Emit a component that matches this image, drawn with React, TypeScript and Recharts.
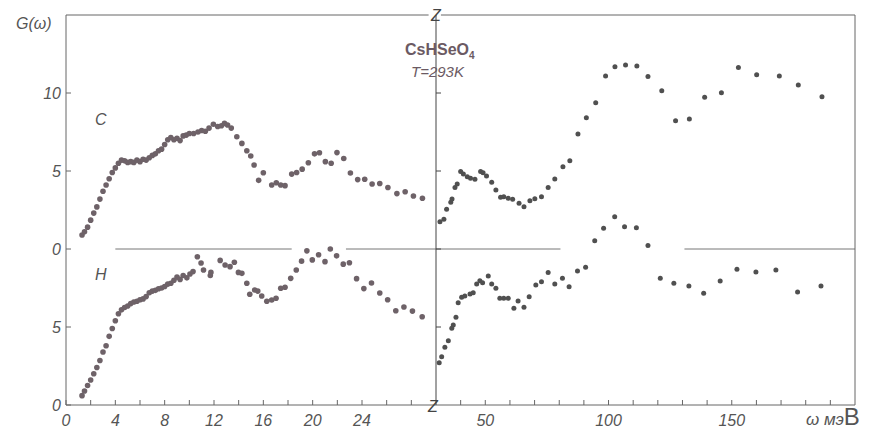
import { ScatterChart, Scatter, XAxis, YAxis, ReferenceLine } from 'recharts';

// C curve is drawn lifted by 10 units above the H curve (shared axis)
const C_SHIFT = 10;

// [ω meV, G(ω)]
const cLow: [number, number][] = [
  [1.3, 0.9], [1.5, 1.1], [1.75, 1.4], [2.0, 1.85], [2.25, 2.3], [2.5, 2.7], [2.75, 3.2], [3.0, 3.7],
  [3.25, 4.1], [3.5, 4.5], [3.75, 4.9], [4.0, 5.2], [4.25, 5.5], [4.5, 5.7], [4.75, 5.65], [5.0, 5.55],
  [5.25, 5.6], [5.5, 5.55], [5.75, 5.7], [6.0, 5.6], [6.25, 5.75], [6.5, 5.7], [6.75, 5.85], [7.0, 6.0],
  [7.25, 6.1], [7.5, 6.3], [7.75, 6.4], [8.0, 6.7], [8.25, 7.0], [8.5, 7.15], [8.75, 7.0], [9.0, 7.1],
  [9.25, 6.95], [9.5, 7.25], [9.75, 7.3], [10.0, 7.4], [10.35, 7.4], [10.7, 7.5], [11.0, 7.6], [11.3, 7.55],
  [11.6, 7.75], [11.95, 8.0], [12.3, 7.85], [12.6, 7.9], [12.85, 8.05], [13.1, 7.95], [13.4, 7.75],
  [13.85, 7.2], [14.26, 6.77], [14.66, 6.3], [14.98, 5.96], [15.25, 5.38], [15.62, 4.4], [16.0, 4.89],
  [16.68, 4.1], [17.05, 4.25], [17.41, 4.1], [17.76, 4.06], [18.3, 4.8], [18.7, 4.9], [19.15, 5.12],
  [19.65, 5.53], [20.15, 6.1], [20.55, 6.17], [21.03, 5.6], [21.5, 5.5], [21.97, 6.18], [22.52, 5.8],
  [23.06, 4.87], [23.65, 4.45], [24.22, 4.47], [24.82, 4.17], [25.44, 4.2], [26.1, 3.94], [26.83, 3.55],
  [27.5, 3.67], [28.17, 3.4], [28.9, 3.25],
];

const hLow: [number, number][] = [
  [1.3, 0.6], [1.5, 0.9], [1.75, 1.25], [2.0, 1.6], [2.25, 2.0], [2.5, 2.4], [2.75, 2.85], [3.0, 3.4],
  [3.25, 3.8], [3.5, 4.4], [3.75, 4.9], [4.0, 5.4], [4.25, 5.85], [4.5, 6.1], [4.75, 6.25], [5.0, 6.35],
  [5.25, 6.5], [5.5, 6.6], [5.75, 6.65], [6.0, 6.75], [6.25, 6.8], [6.5, 6.95], [6.75, 7.2], [7.0, 7.3],
  [7.25, 7.35], [7.5, 7.45], [7.75, 7.5], [8.0, 7.6], [8.25, 7.75], [8.5, 7.8], [8.75, 8.0], [9.0, 8.2],
  [9.25, 8.05], [9.5, 8.3], [9.8, 8.15], [10.05, 8.4], [10.3, 8.55], [10.65, 9.5], [10.95, 9.1],
  [11.15, 8.65], [11.7, 8.3], [11.75, 8.5], [12.5, 9.27], [12.9, 8.97], [13.3, 8.87], [13.65, 9.15],
  [13.98, 8.5], [14.26, 8.44], [14.66, 7.8], [14.9, 7.1], [15.3, 7.37], [15.55, 7.3], [15.87, 6.99],
  [16.28, 6.65], [16.68, 6.73], [17.03, 6.84], [17.41, 7.48], [17.76, 7.55], [18.22, 8.12], [18.67, 8.65],
  [19.1, 9.22], [19.53, 9.88], [19.97, 9.3], [20.48, 9.63], [21.0, 9.19], [21.43, 10.0], [21.94, 9.56],
  [22.48, 9.03], [22.98, 9.12], [23.56, 8.1], [24.15, 7.46], [24.77, 7.82], [25.44, 7.18], [26.08, 6.75],
  [26.74, 6.04], [27.4, 6.28], [28.09, 6.02], [28.88, 5.66],
];

const cHigh: [number, number][] = [
  [31.6, 1.75], [33.2, 1.9], [34.3, 2.55], [36.0, 3.0], [36.5, 3.2], [37.7, 3.95], [38.6, 4.17],
  [40.0, 4.96], [41.1, 4.81], [42.7, 4.63], [44.0, 4.53], [45.8, 4.47], [48.1, 4.96], [49.1, 4.89],
  [50.5, 4.68], [52.6, 4.28], [54.3, 3.78], [56.2, 3.31], [57.5, 3.35], [59.3, 3.25], [61.1, 3.19],
  [63.7, 2.93], [65.7, 2.71], [68.1, 3.1], [70.1, 3.22], [72.8, 3.35], [75.5, 3.95], [78.2, 4.49],
  [81.5, 5.28], [84.3, 5.66], [87.6, 7.37], [91.0, 8.42], [94.8, 9.38], [98.8, 11.09], [102.6, 11.69],
  [106.9, 11.79], [111.5, 11.73], [116.0, 11.05], [121.6, 10.15], [127.2, 8.22], [132.8, 8.33],
  [139.0, 9.72], [145.8, 10.02], [152.7, 11.64], [160.1, 11.17], [169.3, 11.09], [177.0, 10.51],
  [186.6, 9.76],
];

const hHigh: [number, number][] = [
  [31.3, 2.71], [32.3, 3.1], [33.6, 3.7], [35.0, 4.12], [36.4, 4.92], [37.0, 5.13], [38.1, 5.62],
  [39.0, 6.56], [40.4, 6.9], [41.7, 6.99], [43.8, 7.12], [45.1, 7.2], [46.5, 7.76], [47.8, 7.97],
  [48.9, 7.84], [51.2, 8.27], [52.6, 7.76], [54.3, 7.48], [55.9, 6.84], [57.5, 6.84], [59.3, 6.84],
  [61.6, 6.2], [63.3, 6.67], [65.7, 6.26], [67.8, 6.94], [70.5, 7.69], [72.8, 7.9], [75.5, 8.5],
  [78.2, 7.76], [81.3, 8.12], [84.0, 7.58], [87.4, 8.59], [90.7, 8.83], [94.4, 10.53], [98.0, 11.33],
  [102.5, 12.07], [106.5, 11.43], [111.3, 11.37], [116.0, 10.23], [121.0, 8.12], [126.5, 7.8],
  [132.6, 7.63], [138.6, 7.16], [145.3, 7.95], [152.1, 8.7], [159.8, 8.53], [167.9, 8.65],
  [176.7, 7.24], [186.2, 7.63],
];

const lowTicks = [0, 2, 4, 6, 8, 10, 12, 14, 16, 18, 20, 22, 24, 26, 28];
const lowLabels = [0, 4, 8, 12, 16, 20, 24];
const highTicks = [40, 50, 60, 70, 80, 90, 100, 110, 120, 130, 140, 150, 160, 170, 180, 190];
const highLabels = [50, 100, 150];
const gTicks = [0, 5, 10, 15, 20];
const gLabels = ['0', '5', '0', '5', '10'];

const toPts = (arr: [number, number][], shift: number) => arr.map(([w, g]) => ({ w, g: g + shift }));

const FONT = '"Liberation Sans", Arial, sans-serif';
const INK = '#555';
const tickStyle = { fill: INK, fontSize: 16, fontStyle: 'italic', fontFamily: FONT };
const dot = (fill: string, r: number) => (p: any) => <circle cx={p.cx} cy={p.cy} r={r} fill={fill} />;

const label = (left: number, top: number, extra: React.CSSProperties = {}) => ({
  position: 'absolute' as const, left, top, fontFamily: FONT, fontStyle: 'italic', color: INK,
  fontSize: 16, lineHeight: 1, whiteSpace: 'nowrap' as const, ...extra,
});

export default function App() {
  return (
    <div style={{ position: 'absolute', left: 0, top: 0, width: 880, height: 431, background: '#fff', overflow: 'hidden' }}>
      <div style={{ position: 'absolute', left: 0, top: 0 }}>
        <ScatterChart width={436} height={431} margin={{ top: 15, right: 0, bottom: 0, left: 0 }}>
          <XAxis type="number" dataKey="w" domain={[0, 30]} ticks={lowTicks} height={26} allowDataOverflow
            tickFormatter={(v: number) => (lowLabels.includes(v) ? String(v) : '')}
            tick={tickStyle} tickSize={-5} tickMargin={15} stroke="#666" />
          <YAxis type="number" dataKey="g" domain={[0, 25]} ticks={gTicks} width={66} allowDataOverflow
            tickFormatter={(v: number) => gLabels[gTicks.indexOf(v)]}
            tick={tickStyle} tickSize={-5} tickMargin={10} stroke="#666" />
          <ReferenceLine segment={[{ x: 0, y: 25 }, { x: 29.4, y: 25 }]} stroke="#666" ifOverflow="visible" />
          <ReferenceLine segment={[{ x: 4, y: 10 }, { x: 18.3, y: 10 }]} stroke="#777" />
          <ReferenceLine segment={[{ x: 22.7, y: 10 }, { x: 30, y: 10 }]} stroke="#777" />
          <Scatter data={toPts(cLow, C_SHIFT)} shape={dot('#6e6268', 2.8)} isAnimationActive={false} />
          <Scatter data={toPts(hLow, 0)} shape={dot('#6e6268', 2.8)} isAnimationActive={false} />
        </ScatterChart>
      </div>
      <div style={{ position: 'absolute', left: 435, top: 0 }}>
        <ScatterChart width={445} height={431} margin={{ top: 15, right: 24, bottom: 0, left: 0 }}>
          <XAxis type="number" dataKey="w" domain={[30, 200]} ticks={highTicks} height={26} allowDataOverflow
            tickFormatter={(v: number) => (highLabels.includes(v) ? String(v) : '')}
            tick={tickStyle} tickSize={-5} tickMargin={15} stroke="#666" />
          <YAxis yAxisId="z" type="number" dataKey="g" domain={[0, 25]} ticks={[5, 10, 15, 20]} width={1}
            tickFormatter={() => ''} tickSize={-5} stroke="#444" />
          <YAxis yAxisId="r" orientation="right" type="number" dataKey="g" domain={[0, 25]} ticks={[5, 10, 15, 20]}
            width={1} tickFormatter={() => ''} tickSize={-5} stroke="#666" />
          <ReferenceLine yAxisId="z" segment={[{ x: 32, y: 25 }, { x: 200, y: 25 }]} stroke="#666" ifOverflow="visible" />
          <ReferenceLine yAxisId="z" segment={[{ x: 30, y: 10 }, { x: 80.5, y: 10 }]} stroke="#777" />
          <ReferenceLine yAxisId="z" segment={[{ x: 130.8, y: 10 }, { x: 200, y: 10 }]} stroke="#777" />
          <Scatter yAxisId="z" data={toPts(cHigh, C_SHIFT)} shape={dot('#505050', 2.5)} isAnimationActive={false} />
          <Scatter yAxisId="z" data={toPts(hHigh, 0)} shape={dot('#505050', 2.5)} isAnimationActive={false} />
        </ScatterChart>
      </div>
      <div style={label(16, 16)}>G(ω)</div>
      <div style={label(95, 112)}>C</div>
      <div style={label(95, 267)}>H</div>
      <div style={label(431, 8, { color: '#444' })}>Z</div>
      <div style={label(428, 399, { color: '#444' })}>Z</div>
      <div style={label(405, 42, { fontStyle: 'normal', fontWeight: 'bold', color: '#6b5a63' })}>
        CsHSeO<span style={{ fontSize: 10, position: 'relative', top: 4 }}>4</span>
      </div>
      <div style={label(411, 64, { fontSize: 15, color: '#6b5a63' })}>T=293K</div>
      <div style={label(806, 405, { fontSize: 17, lineHeight: '24px' })}>
        ω мэ<span style={{ fontSize: 24, fontStyle: 'normal', fontWeight: 300 }}>В</span>
      </div>
    </div>
  );
}
